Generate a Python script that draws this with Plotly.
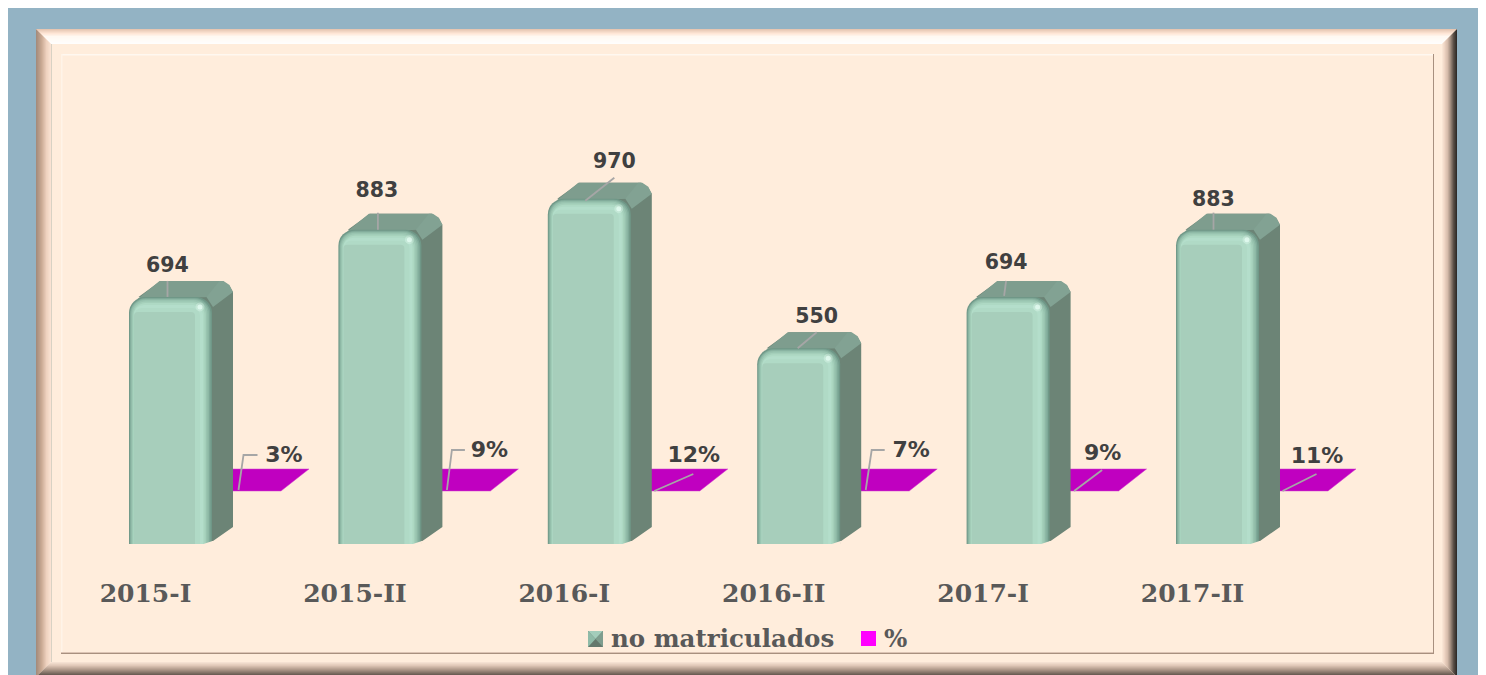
"""
No matriculados por periodo, bars with the faux 3D look of the original
"""
import plotly.graph_objects as go

categories = ["2015-I", "2015-II", "2016-I", "2016-II", "2017-I", "2017-II"]
no_matriculados = [694, 883, 970, 550, 694, 883]
porcentaje = [3, 9, 12, 7, 9, 11]
legend_names = ["no matriculados", "%"]

# the page keeps its default 8px body margin, all px values below are page px
PAGE_X, PAGE_Y = 8, 8
W, H = 1470, 667
X_STEP = 209.4      # px between categories
Y_SCALE = 0.356     # px per unit
X0_PX, Y0_PX = 170.5, 544

# ── Label placement, px relative to bar centre / bar top ──────────────────────
# (label dx, label dy, leader points)
bar_labels = [
    (-3, -30, [(-3, -16), (-3, 0)]),
    (-3, -38, [(-2, -17), (-2, 0)]),
    (25, -36, [(25, -21), (-4, 2)]),
    (18, -30, [(18, -16), (-1, 0)]),
    (-2, -33, [(-2, -16), (-4, -1)]),
    (-4, -29, [(-4, -17), (-4, 0)]),
]
# dx from bar centre, y as px from the top of the page
pct_labels = [
    (113.5, 456, [(87, 455), (73, 455), (68, 490)]),
    (109.5, 451, [(85, 450), (72, 450), (67, 490)]),
    (104.5, 456, [(104, 474), (65, 491)]),
    (112.5, 451, [(86, 450), (73, 450), (67, 490)]),
    (94.5, 454, [(94, 470), (66, 491)]),
    (99.5, 457, [(99, 474), (65, 491)]),
]

# left inset, right inset, top inset, colour, corner radius
bar_layers = [
    (0, 0, 0, "#6f9787", 16),
    (0.8, 1.5, 1, "#7fa998", 16),
    (1.6, 3, 2, "#8db8a5", 15),
    (2.6, 4.5, 3, "#99c4b0", 14),
    (3.6, 6, 4.5, "#a4cfba", 13),
    (4.6, 7.5, 6, "#aed9c4", 12),
    (5, 9, 8, "#b4decb", 10),
    (5, 12, 11, "#b0dac6", 8),
    (5, 17, 15, "#a7cebb", 4),
]


def lerp_color(stops, t):
    for (t0, c0), (t1, c1) in zip(stops, stops[1:]):
        if t <= t1:
            f = (t - t0) / (t1 - t0)
            rgb = [int(c0[k:k + 2], 16) + f * (int(c1[k:k + 2], 16) - int(c0[k:k + 2], 16))
                   for k in (1, 3, 5)]
            return "rgb(%d,%d,%d)" % tuple(rgb)
    return stops[-1][1]


def px(x, y):
    return (x - PAGE_X) / W, 1 - (y - PAGE_Y) / H


def rect(x0, y0, x1, y1, color):
    a, b = px(x0, y0)
    c, d = px(x1, y1)
    return dict(type="rect", xref="paper", yref="paper", x0=a, y0=b, x1=c, y1=d,
                fillcolor=color, line_width=0, layer="below")


def poly(points, color):
    coords = [px(*p) for p in points]
    path = "M" + "L".join(f"{a:.5f},{b:.5f}" for a, b in coords) + "Z"
    return dict(type="path", xref="paper", yref="paper", path=path,
                fillcolor=color, line_width=0, layer="below")


# ── Frame ─────────────────────────────────────────────────────────────────────

shapes = [rect(8, 8, 1478, 675, "#93b3c4")]

FL, FT, FR, FB = 36, 29, 1457, 677
top_stops = [(0, "#e6c6b2"), (4, "#ffe6d6"), (7, "#fff9f2"), (15, "#ffffff")]
left_stops = [(0, "#a58c7c"), (5, "#c9a993"), (10, "#efd2bf"), (15, "#fde7d7")]
right_stops = [(0, "#2f2b28"), (3, "#5a4f47"), (6, "#a08c7e"), (9, "#d6bcab"),
               (12, "#efd5c4"), (15, "#ffeddc")]
bottom_stops = [(0, "#4f463f"), (2, "#6b5e55"), (7, "#b09a8b"), (11, "#e0c8b8"),
                (15, "#fdeadb")]

shapes.append(rect(FL, FT, FR, FB, "#ffeddc"))
for i in range(15):
    a, b, c, d = FL + i, FT + i, FR - i, FB - i
    e, f, g, h = a + 1, b + 1, c - 1, d - 1
    shapes.append(poly([(a, b), (c, b), (g, f), (e, f)], lerp_color(top_stops, i)))
    shapes.append(poly([(a, b), (e, f), (e, h), (a, d)], lerp_color(left_stops, i)))
    shapes.append(poly([(c, b), (c, d), (g, h), (g, f)], lerp_color(right_stops, i)))
    shapes.append(poly([(a, d), (c, d), (g, h), (e, h)], lerp_color(bottom_stops, i)))

shapes += [
    rect(51, 44, 52, 662, "#d8d2c4"),
    rect(61, 54, 1434, 654, "#a8907f"),
    rect(61, 54, 1433, 653, "#ffeddc"),
    rect(61, 54, 1433, 55.5, "#fff8f0"),
    rect(61, 54, 62.5, 653, "#fff4e8"),
    rect(61, 652, 1433, 653, "#dcc4b4"),
]

# legend swatches, drawn by hand for the split first one
shapes += [
    rect(588, 631, 603, 647, "#64786c"),
    poly([(588, 631), (603, 631), (595.5, 639)], "#a3cdbb"),
    poly([(588, 631), (595.5, 639), (588, 647)], "#8fbba8"),
    poly([(603, 631), (603, 647), (595.5, 639)], "#7e9d8e"),
    rect(861, 631, 876, 646, "#ff00ff"),
]


# ── Depth faces, drawn under the bars ─────────────────────────────────────────

def face_trace(offsets, color, xaxis="x", yaxis="y"):
    """Polygon per bar from px offsets off each bar's top centre (or its base)."""
    xs, ys = [], []
    for i, v in enumerate(no_matriculados):
        for dx, dy, from_base in offsets:
            xs.append(i + dx / X_STEP)
            ys.append((0 if from_base else v) - dy / Y_SCALE)
        xs.append(None)
        ys.append(None)
    return go.Scatter(x=xs, y=ys, mode="lines", fill="toself", fillcolor=color,
                      line=dict(width=0, color=color), xaxis=xaxis, yaxis=yaxis,
                      hoverinfo="skip", showlegend=False)


fig = go.Figure()

# percent series sits flat on its own plane, clear of the zero line
xs, ys = [], []
for i, p in enumerate(porcentaje):
    lift = (Y0_PX - 491) / Y_SCALE + p / 100
    deep = 22 / Y_SCALE
    xs += [i + 41.5 / X_STEP, i + 110.5 / X_STEP, i + 138.5 / X_STEP, i + 41.5 / X_STEP, None]
    ys += [lift, lift, lift + deep, lift + deep, None]
fig.add_trace(go.Scatter(x=xs, y=ys, mode="lines", fill="toself", fillcolor="#c000c0",
                         line=dict(width=0.5, color="#d040d0"), hoverinfo="skip", showlegend=False))

fig.add_trace(face_trace([
    (30, -3, True), (42.5, -3, True), (62.5, -17, True),
    (62.5, -5, False), (59, -11, False), (52, -16, False), (-10, -16, False),
    (-32, 0, False), (30, 8, False),
], "#6c8476"))
fig.add_trace(face_trace([
    (-33, 2, False), (-11, -16, False), (52, -16, False), (41, 0, False),
], "#7e9d8e"))
fig.add_trace(face_trace([
    (36, 0, False), (49, -16, False), (53, -16, False), (59, -12, False),
    (62.5, -5, False), (42.5, 10, False),
], "#82a293"))

# ── Front faces ───────────────────────────────────────────────────────────────

for left, right, top, color, radius in bar_layers:
    fig.add_trace(go.Bar(
        x=list(range(len(categories))),
        y=[v - top / Y_SCALE for v in no_matriculados],
        width=(83 - left - right) / X_STEP,
        offset=(-41.5 + left) / X_STEP,
        marker=dict(color=color, cornerradius=radius, line_width=0),
        xaxis="x2", yaxis="y2", hoverinfo="skip", showlegend=False,
    ))

# small glint near the top right corner of each bar
for size, alpha in [(9, 0.3), (5, 0.7)]:
    fig.add_trace(go.Scatter(
        x=[i + 29.5 / X_STEP for i in range(len(categories))],
        y=[v - 10 / Y_SCALE for v in no_matriculados],
        mode="markers", marker=dict(size=size, color="#eafff6", opacity=alpha, line_width=0),
        xaxis="x2", yaxis="y2", hoverinfo="skip", showlegend=False,
    ))

# rounded bottom right corner of the front face
fig.add_trace(go.Scatter(
    x=sum([[i + 33 / X_STEP, i + 42 / X_STEP, i + 42 / X_STEP, None] for i in range(len(categories))], []),
    y=sum([[0, 3 / Y_SCALE, 0, None] for _ in categories], []),
    mode="lines", fill="toself", fillcolor="#ffeddc", line=dict(width=0),
    xaxis="x2", yaxis="y2", hoverinfo="skip", showlegend=False,
))

# ── Leaders and data labels ───────────────────────────────────────────────────

xs, ys = [], []
for i, v in enumerate(no_matriculados):
    for dx, dy in bar_labels[i][2]:
        xs.append(i + dx / X_STEP)
        ys.append(v - dy / Y_SCALE)
    xs.append(None)
    ys.append(None)
for i, item in enumerate(pct_labels):
    for dx, y_px in item[2]:
        xs.append(i + dx / X_STEP)
        ys.append((Y0_PX - y_px) / Y_SCALE)
    xs.append(None)
    ys.append(None)
fig.add_trace(go.Scatter(x=xs, y=ys, mode="lines", line=dict(color="#a6a6a6", width=1.8),
                         xaxis="x2", yaxis="y2", hoverinfo="skip", showlegend=False))

fig.add_trace(go.Scatter(
    x=[i + bar_labels[i][0] / X_STEP for i in range(len(categories))],
    y=[v - bar_labels[i][1] / Y_SCALE for i, v in enumerate(no_matriculados)],
    mode="text", text=[str(v) for v in no_matriculados], textposition="middle center",
    textfont=dict(family="DejaVu Sans", size=20.5, color="#404040", weight="bold"),
    xaxis="x2", yaxis="y2", hoverinfo="skip", showlegend=False,
))
fig.add_trace(go.Scatter(
    x=[i + pct_labels[i][0] / X_STEP for i in range(len(categories))],
    y=[(Y0_PX - pct_labels[i][1]) / Y_SCALE for i in range(len(categories))],
    mode="text", text=[f"{p}%" for p in porcentaje], textposition="middle center",
    textfont=dict(family="DejaVu Sans", size=22, color="#404040", weight="bold"),
    xaxis="x2", yaxis="y2", hoverinfo="skip", showlegend=False,
))

# ── Layout ────────────────────────────────────────────────────────────────────

x_range = [(PAGE_X - X0_PX) / X_STEP, (PAGE_X + W - X0_PX) / X_STEP]
y_range = [(Y0_PX - PAGE_Y - H) / Y_SCALE, (Y0_PX - PAGE_Y) / Y_SCALE]
legend_font = dict(family="DejaVu Serif", size=24.5, color="#595959", weight="bold")

fig.update_layout(
    width=W, height=H,
    margin=dict(l=0, r=0, t=0, b=0),
    paper_bgcolor="#ffffff",
    plot_bgcolor="rgba(0,0,0,0)",
    barmode="overlay",
    showlegend=False,
    shapes=shapes,
    xaxis=dict(
        range=x_range, domain=[0, 1], anchor="free", position=px(0, 576)[1],
        tickvals=[i - 25 / X_STEP for i in range(len(categories))], ticktext=categories,
        showgrid=False, zeroline=False, showline=False, ticks="",
        tickfont=dict(family="DejaVu Serif", size=25, color="#595959", weight="bold"),
    ),
    yaxis=dict(range=y_range, domain=[0, 1], visible=False),
    xaxis2=dict(range=x_range, overlaying="x", visible=False),
    yaxis2=dict(range=y_range, overlaying="y", visible=False),
    annotations=[
        dict(text=legend_names[0], xref="paper", yref="paper", x=px(609, 0)[0], y=px(0, 638)[1],
             xanchor="left", yanchor="middle", showarrow=False, font=legend_font),
        dict(text=legend_names[1], xref="paper", yref="paper", x=px(882, 0)[0], y=px(0, 638)[1],
             xanchor="left", yanchor="middle", showarrow=False, font=legend_font),
    ],
)

fig.write_html("out.html")
